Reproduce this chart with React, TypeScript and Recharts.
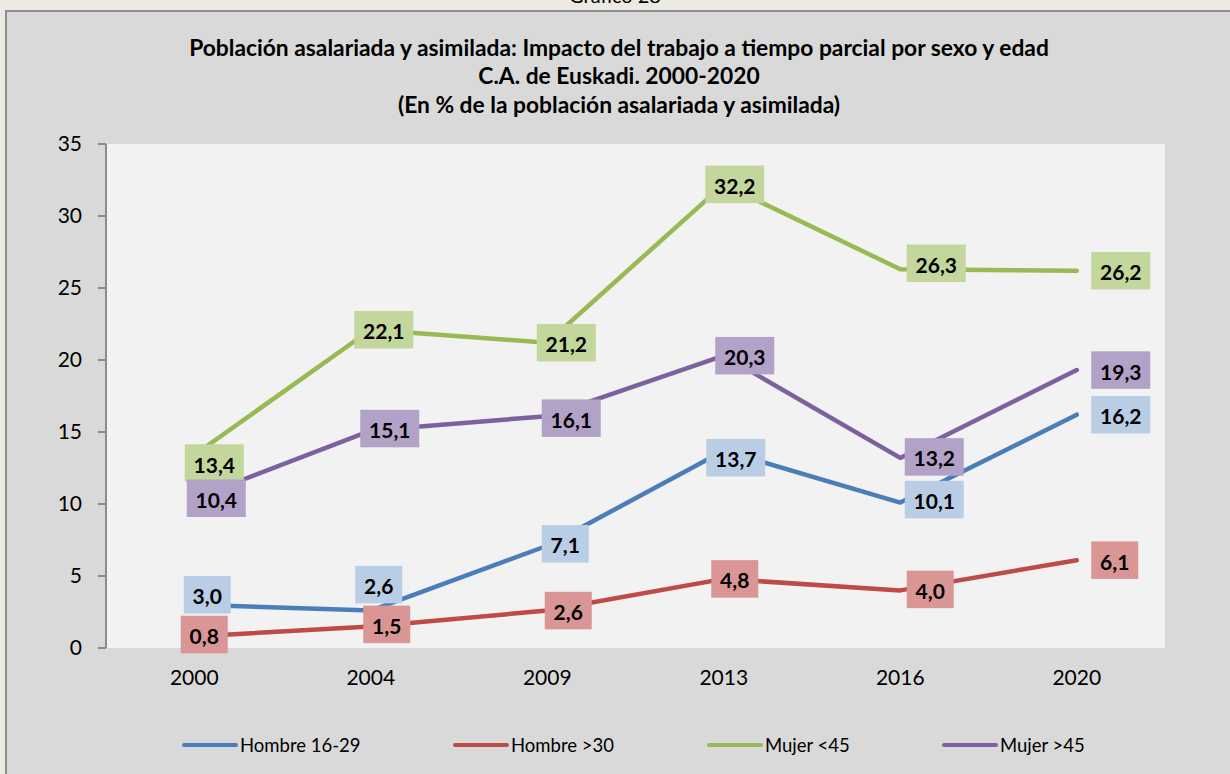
import React from 'react';
import { LineChart, Line, XAxis, YAxis, CartesianGrid, LabelList } from 'recharts';

const years = ['2000', '2004', '2009', '2013', '2016', '2020'];
const hombre1629 = [3.0, 2.6, 7.1, 13.7, 10.1, 16.2];
const hombre30 = [0.8, 1.5, 2.6, 4.8, 4.0, 6.1];
const mujer45menos = [13.4, 22.1, 21.2, 32.2, 26.3, 26.2];
const mujer45mas = [10.4, 15.1, 16.1, 20.3, 13.2, 19.3];
const yTicks = [0, 5, 10, 15, 20, 25, 30, 35];

const seriesNames = ['Hombre 16-29', 'Hombre >30', 'Mujer <45', 'Mujer >45'];

const data = years.map((year, i) => ({
  year,
  h1: hombre1629[i],
  h2: hombre30[i],
  m1: mujer45menos[i],
  m2: mujer45mas[i],
}));

// styling
const FONT = 'Lato, "Liberation Sans", sans-serif';
const series = [
  { key: 'h1', name: seriesNames[0], color: '#4a7ebb', box: '#b9cde5', off: [[13, -10], [8, -26], [18, -2], [12, 7], [34, -3], [44, 0]] },
  { key: 'h2', name: seriesNames[1], color: '#be4b48', box: '#d99694', off: [[10, -2], [16, -2], [21, 0], [11, 0], [30, -1], [38, 0]] },
  { key: 'm1', name: seriesNames[2], color: '#98b954', box: '#c3d69b', off: [[20, 8], [13, 0], [19, 0], [11, 0], [36, -6], [44, 0]] },
  { key: 'm2', name: seriesNames[3], color: '#7d60a0', box: '#b3a2c7', off: [[22, 0], [19, -2], [24, 2], [21, 0], [34, -1], [44, 0]] },
];
const legendLefts = [182, 453, 707, 942];

const fmt = (v: number) => v.toFixed(1).replace('.', ',');

const makeLabel = (off: number[][], fill: string) => (props: any) => {
  const { x, y, value, index } = props;
  if (x == null || y == null) return null;
  const [dx, dy] = off[index] || [0, 0];
  const text = fmt(Number(value));
  const w = text.length * 12 + 11;
  const h = 37.5;
  const cx = x + dx;
  const cy = y + dy;
  return (
    <g>
      <rect x={cx - w / 2} y={cy - h / 2} width={w} height={h} fill={fill} />
      <text x={cx} y={cy + 1} textAnchor="middle" dominantBaseline="central" fontSize={21} fontWeight={700} fill="#000" fontFamily={FONT}>
        {text}
      </text>
    </g>
  );
};

const titleLines = [
  'Población asalariada y asimilada: Impacto del trabajo a tiempo parcial por sexo y edad',
  'C.A. de Euskadi. 2000-2020',
  '(En % de la población asalariada y asimilada)',
];
const titleCenters = [47, 75, 104];
const HALF_BAND = 88.25;

export default function App() {
  return (
    <div style={{ position: 'fixed', left: 0, top: 0, width: 1230, height: 774, background: '#ece9e3', overflow: 'hidden', fontFamily: FONT }}>
      <div style={{ position: 'absolute', left: 0, width: 1230, top: -15, textAlign: 'center', fontSize: 20, lineHeight: '20px', color: '#000' }}>
        Gráfico 28
      </div>
      <div style={{ position: 'absolute', left: 5, top: 10, width: 1260, height: 800, background: '#d9d9d9', border: '2.5px solid #8c8c8c', boxSizing: 'border-box' }} />
      {titleLines.map((t, i) => (
        <div key={i} style={{ position: 'absolute', left: 0, width: 1238, top: titleCenters[i] - 14, height: 28, lineHeight: '28px', textAlign: 'center', fontWeight: 700, fontSize: 22.8, color: '#000', whiteSpace: 'nowrap' }}>
          {t}
        </div>
      ))}
      <div style={{ position: 'absolute', left: 0, top: 0 }}>
        <LineChart width={1230} height={774} data={data} margin={{ top: 144, right: 65, bottom: 86, left: 46 }}>
          <CartesianGrid fill="#f2f2f2" horizontal={false} vertical={false} />
          <XAxis xAxisId="ticks" type="number" domain={[0, 6]} ticks={[0, 1, 2, 3, 4, 5, 6]} allowDataOverflow tick={false} tickSize={7} height={0} axisLine={{ stroke: '#8c8c8c', strokeWidth: 2 }} tickLine={{ stroke: '#8c8c8c', strokeWidth: 2 }} />
          <XAxis xAxisId="cat" dataKey="year" height={40} padding={{ left: HALF_BAND, right: HALF_BAND }} axisLine={false} tickLine={false} tickSize={0} tickMargin={22} interval={0} tick={{ fontSize: 21, fill: '#000', fontFamily: FONT }} />
          <YAxis width={60} domain={[0, 35]} ticks={yTicks} interval={0} tickSize={8} tickMargin={16} axisLine={{ stroke: '#8c8c8c', strokeWidth: 2 }} tickLine={{ stroke: '#8c8c8c', strokeWidth: 2 }} tick={{ fontSize: 21, fill: '#000', fontFamily: FONT }} />
          {series.map((s) => (
            <Line key={s.key} xAxisId="cat" type="linear" dataKey={s.key} name={s.name} stroke={s.color} strokeWidth={4.5} strokeLinecap="round" strokeLinejoin="round" dot={false} activeDot={false} isAnimationActive={false} />
          ))}
          {series.map((s) => (
            <Line key={s.key + '-lbl'} xAxisId="cat" type="linear" dataKey={s.key} stroke="none" strokeWidth={0} dot={false} activeDot={false} isAnimationActive={false} legendType="none">
              <LabelList dataKey={s.key} content={makeLabel(s.off, s.box)} />
            </Line>
          ))}
        </LineChart>
      </div>
      {series.map((s, i) => (
        <div key={s.key} style={{ position: 'absolute', left: legendLefts[i], top: 733, height: 24, display: 'flex', alignItems: 'center', whiteSpace: 'nowrap' }}>
          <div style={{ width: 56, height: 4.5, borderRadius: 3, background: s.color }} />
          <span style={{ marginLeft: 2, fontSize: 18.5, color: '#000' }}>{s.name}</span>
        </div>
      ))}
    </div>
  );
}
